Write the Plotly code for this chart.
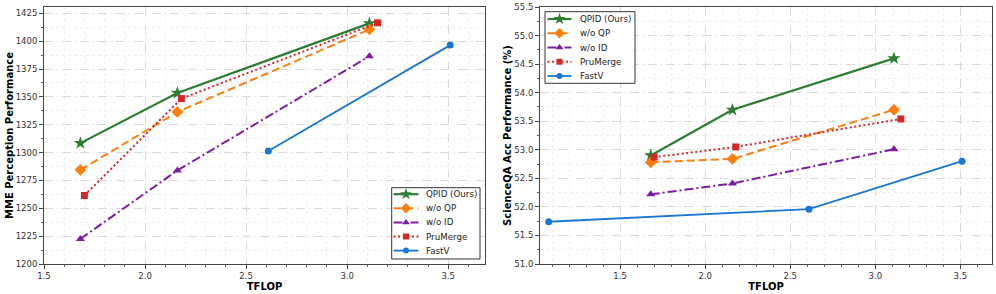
import plotly.graph_objects as go

# ---------------- data ----------------
series_names = ["QPID (Ours)", "w/o QP", "w/o ID", "PruMerge", "FastV"]

# Left panel: MME Perception
mme_qpid_x = [1.68, 2.16, 3.11]
mme_qpid_y = [1308.5, 1353.5, 1416]
mme_woqp_x = [1.68, 2.16, 3.11]
mme_woqp_y = [1284.5, 1336.5, 1410.5]
mme_woid_x = [1.68, 2.16, 3.11]
mme_woid_y = [1222.5, 1284, 1386.5]
mme_pru_x = [1.70, 2.18, 3.15]
mme_pru_y = [1261.5, 1348.5, 1416.5]
mme_fastv_x = [2.61, 3.51]
mme_fastv_y = [1301.5, 1396.5]

# Right panel: ScienceQA
sqa_qpid_x = [1.68, 2.16, 3.11]
sqa_qpid_y = [52.90, 53.70, 54.60]
sqa_woqp_x = [1.68, 2.16, 3.11]
sqa_woqp_y = [52.78, 52.84, 53.70]
sqa_woid_x = [1.68, 2.16, 3.11]
sqa_woid_y = [52.22, 52.41, 53.01]
sqa_pru_x = [1.70, 2.18, 3.15]
sqa_pru_y = [52.87, 53.05, 53.54]
sqa_fastv_x = [1.08, 2.61, 3.51]
sqa_fastv_y = [51.74, 51.96, 52.80]

mme_ticks = [1200, 1225, 1250, 1275, 1300, 1325, 1350, 1375, 1400, 1425]
sqa_ticks = [51.0, 51.5, 52.0, 52.5, 53.0, 53.5, 54.0, 54.5, 55.0, 55.5]
x_ticks = [1.5, 2.0, 2.5, 3.0, 3.5]

# ---------------- styles ----------------
colors = ["#2E7D32", "#FF7F0E", "#7B1FA2", "#D62728", "#1976D2"]
dashes = ["solid", "8px,4px", "9px,3px,2px,3px", "2px,2.6px", "solid"]
symbols = ["star", "diamond", "triangle-up", "square", "circle"]
msizes = [10, 9, 8, 7, 7]
widths = [2.2, 2.0, 2.0, 2.0, 1.8]

FONT = "DejaVu Sans"
W, H = 996, 294
ML, MR, MT, MB = 44, 4, 7, 30
PW, PH = W - ML - MR, H - MT - MB

def dx(px):
    return (px - ML) / PW

fig = go.Figure()

panels = [
    ("x", "y", [(mme_qpid_x, mme_qpid_y), (mme_woqp_x, mme_woqp_y), (mme_woid_x, mme_woid_y),
                (mme_pru_x, mme_pru_y), (mme_fastv_x, mme_fastv_y)]),
    ("x2", "y2", [(sqa_qpid_x, sqa_qpid_y), (sqa_woqp_x, sqa_woqp_y), (sqa_woid_x, sqa_woid_y),
                  (sqa_pru_x, sqa_pru_y), (sqa_fastv_x, sqa_fastv_y)]),
]
for xa, ya, series in panels:
    for i, (xs, ys) in enumerate(series):
        fig.add_trace(go.Scatter(
            x=xs, y=ys, name=series_names[i], mode="lines+markers", showlegend=False,
            line=dict(color=colors[i], dash=dashes[i], width=widths[i]),
            marker=dict(symbol=symbols[i], size=msizes[i], color=colors[i]),
            xaxis=xa, yaxis=ya))

# ---------------- legends (drawn on a pixel-scaled overlay axis) ----------------
legend_boxes = [
    dict(x0=391.7, x1=480, y0=187.7, y1=259, y_first=194.2, step=14.1,
         ls0=393.5, ls1=418.5, mk=406, tx=424),
    dict(x0=545, x1=635, y0=11.7, y1=83.3, y_first=19.0, step=14.25,
         ls0=547.5, ls1=571.5, mk=559.5, tx=578),
]
annotations = []
for lb in legend_boxes:
    fig.add_trace(go.Scatter(
        x=[lb["x0"], lb["x1"], lb["x1"], lb["x0"], lb["x0"]],
        y=[lb["y0"], lb["y0"], lb["y1"], lb["y1"], lb["y0"]],
        mode="lines", fill="toself", fillcolor="white",
        line=dict(color="#333", width=1), showlegend=False, hoverinfo="skip",
        xaxis="x3", yaxis="y3"))
    for i in range(len(series_names)):
        yy = lb["y_first"] + i * lb["step"]
        fig.add_trace(go.Scatter(
            x=[lb["ls0"], lb["ls1"]], y=[yy, yy], mode="lines",
            line=dict(color=colors[i], dash=dashes[i], width=widths[i]),
            showlegend=False, hoverinfo="skip", xaxis="x3", yaxis="y3"))
        fig.add_trace(go.Scatter(
            x=[lb["mk"]], y=[yy], mode="markers",
            marker=dict(symbol=symbols[i], size=msizes[i] - 1, color=colors[i]),
            showlegend=False, hoverinfo="skip", xaxis="x3", yaxis="y3"))
        annotations.append(dict(
            x=lb["tx"], y=yy, xref="x3", yref="y3", text=series_names[i],
            showarrow=False, xanchor="left", yanchor="middle",
            font=dict(family=FONT, size=8.7, color="#222")))

axis_common = dict(
    showline=True, linecolor="#444", linewidth=1, mirror=True,
    ticks="outside", ticklen=4, tickwidth=1, tickcolor="#444",
    tickfont=dict(family=FONT, size=8.5, color="#333"),
    showgrid=True, gridcolor="#d9d9d9", griddash="dash", gridwidth=0.8,
    zeroline=False, automargin=False,
)

def minor(dt):
    return dict(dtick=dt, ticks="outside", ticklen=2, tickcolor="#666",
                showgrid=True, gridcolor="#efefef", griddash="dot", gridwidth=0.6)

title_font = dict(family=FONT, size=10, color="#000", weight="bold")

fig.update_layout(
    width=W, height=H,
    margin=dict(l=ML, r=MR, t=MT, b=MB),
    paper_bgcolor="white", plot_bgcolor="rgba(0,0,0,0)",
    font=dict(family=FONT),
    showlegend=False,
    annotations=annotations,
    xaxis=dict(domain=[dx(44), dx(485)], range=[1.5, 3.682], tickvals=x_ticks,
               ticktext=[f"{v:.1f}" for v in x_ticks], minor=minor(0.1),
               title=dict(text="TFLOP", font=title_font, standoff=0),
               anchor="y", **axis_common),
    yaxis=dict(domain=[0, 1], range=[1200, 1430.7], tickvals=mme_ticks,
               minor=minor(12.5),
               title=dict(text="MME Perception Performance", font=title_font, standoff=0),
               anchor="x", **axis_common),
    xaxis2=dict(domain=[dx(540), dx(992)], range=[1.029, 3.686], tickvals=x_ticks,
                ticktext=[f"{v:.1f}" for v in x_ticks], minor=minor(0.1),
                title=dict(text="TFLOP", font=title_font, standoff=0),
                anchor="y2", **axis_common),
    yaxis2=dict(domain=[0, 1], range=[51.0, 55.5], tickvals=sqa_ticks,
                ticktext=[f"{v:.1f}" for v in sqa_ticks], minor=minor(0.25),
                title=dict(text="ScienceQA Acc Performance (%)", font=title_font, standoff=0),
                anchor="x2", **axis_common),
    xaxis3=dict(domain=[0, 1], range=[ML, W - MR], visible=False, fixedrange=True,
                anchor="y3"),
    yaxis3=dict(domain=[0, 1], range=[H - MB, MT], visible=False, fixedrange=True,
                anchor="x3"),
)

fig.write_html(
    "out.html",
    config={"displayModeBar": False},
    post_script="document.body.style.margin='0';document.body.style.overflow='hidden';",
)
